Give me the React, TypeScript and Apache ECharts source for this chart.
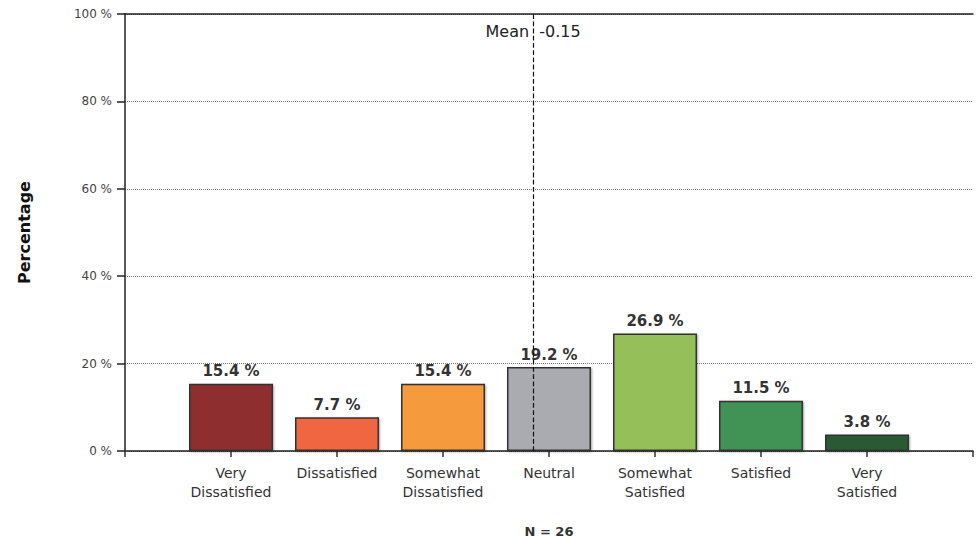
import React, { useEffect, useRef } from "react";
import * as echarts from "echarts";

const categories = [
  "Very\nDissatisfied",
  "Dissatisfied",
  "Somewhat\nDissatisfied",
  "Neutral",
  "Somewhat\nSatisfied",
  "Satisfied",
  "Very\nSatisfied",
];
const scaleValues = [-3, -2, -1, 0, 1, 2, 3];
const percentages = [15.4, 7.7, 15.4, 19.2, 26.9, 11.5, 3.8];
const barColors = ["#8e2f2d", "#f0663f", "#f59a3c", "#a9abb0", "#95bf58", "#3f9254", "#2c5a30"];
const meanValue = -0.15;
const sampleSize = 26;
const yTicks = [0, 20, 40, 60, 80, 100];

const FONT = "DejaVu Sans";

export default function App() {
  const ref = useRef<HTMLDivElement>(null);
  useEffect(() => {
    if (!ref.current) return;
    const chart = echarts.init(ref.current, null, { renderer: "svg" });
    const xMin = scaleValues[0] - 1;
    const xMax = scaleValues[scaleValues.length - 1] + 1;
    chart.setOption({
      animation: false,
      backgroundColor: "#fff",
      grid: { left: 125, right: 6, top: 14, bottom: 95 },
      xAxis: [
        {
          type: "value",
          min: xMin,
          max: xMax,
          interval: 1,
          name: `N = ${sampleSize}`,
          nameLocation: "middle",
          nameGap: 74,
          nameTextStyle: { fontFamily: FONT, fontWeight: "bold", fontSize: 13, color: "#333" },
          axisLine: { show: true, onZero: false, lineStyle: { color: "#222", width: 1.5 } },
          axisTick: { show: true, length: 6, lineStyle: { color: "#333", width: 1.5 } },
          splitLine: { show: false },
          axisLabel: {
            margin: 12,
            fontFamily: FONT,
            fontSize: 14,
            lineHeight: 19,
            color: "#333",
            formatter: (v: number) => {
              const i = scaleValues.indexOf(v);
              return i >= 0 ? categories[i] : "";
            },
          },
        },
        {
          type: "value",
          position: "top",
          min: xMin,
          max: xMax,
          axisLine: { show: true, onZero: false, lineStyle: { color: "#222", width: 1.5 } },
          axisTick: { show: false },
          axisLabel: { show: false },
          splitLine: { show: false },
        },
      ],
      yAxis: {
        type: "value",
        min: yTicks[0],
        max: yTicks[yTicks.length - 1],
        interval: 20,
        name: "Percentage",
        nameLocation: "middle",
        nameGap: 93,
        nameTextStyle: { fontFamily: FONT, fontWeight: "bold", fontSize: 16, color: "#111" },
        axisLine: { show: true, onZero: false, lineStyle: { color: "#222", width: 1.5 } },
        axisTick: { show: true, length: 8, lineStyle: { color: "#222", width: 1.5 } },
        axisLabel: { fontFamily: FONT, fontSize: 12, color: "#444", margin: 13, formatter: "{value} %" },
        splitLine: { show: true, lineStyle: { color: "#777", type: "dotted", width: 1 } },
      },
      series: [
        {
          type: "line",
          data: [],
          z: 1,
          markLine: {
            silent: true,
            symbol: ["none", "none"],
            lineStyle: { color: "#111", type: "dashed", width: 1.2 },
            label: {
              show: true,
              position: "end",
              distance: -25,
              formatter: `Mean  ${meanValue.toFixed(2)}`,
              fontFamily: FONT,
              fontSize: 16,
              color: "#222",
            },
            data: [{ xAxis: meanValue }],
          },
        },
        {
          type: "bar",
          z: 2,
          barWidth: 84,
          data: scaleValues.map((x, i) => ({
            value: [x, percentages[i]],
            itemStyle: {
              color: barColors[i],
              borderColor: "#333",
              borderWidth: 1.5,
              shadowColor: "rgba(0,0,0,0.35)",
              shadowBlur: 2,
              shadowOffsetX: 1,
              shadowOffsetY: 1,
            },
          })),
          label: {
            show: true,
            position: "top",
            distance: 5,
            fontFamily: FONT,
            fontWeight: "bold",
            fontSize: 15,
            color: "#333",
            formatter: (p: any) => `${p.value[1].toFixed(1)} %`,
          },
        },
      ],
    });
    return () => chart.dispose();
  }, []);
  return (
    <div
      ref={ref}
      style={{ position: "fixed", left: 0, top: 0, width: 979, height: 546 }}
    />
  );
}
